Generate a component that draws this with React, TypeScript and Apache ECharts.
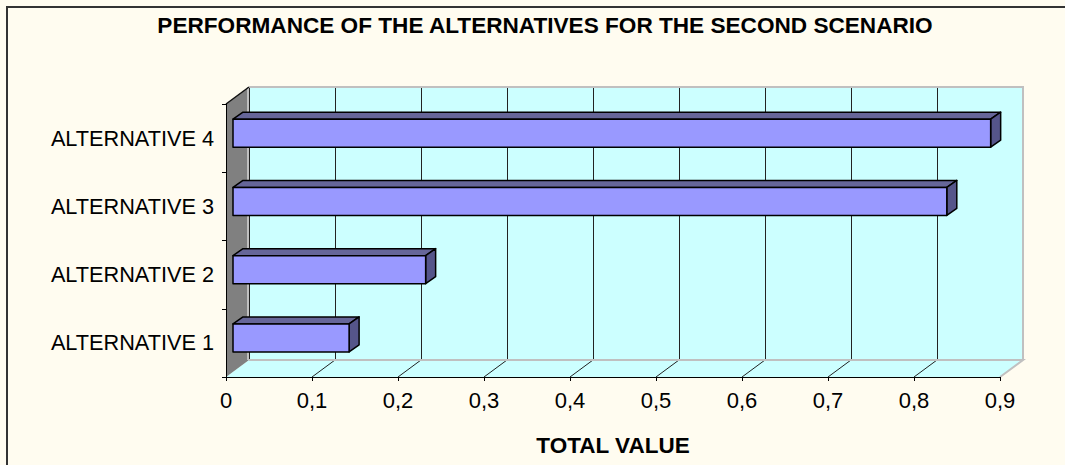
import React, { useEffect, useRef } from "react";
import * as echarts from "echarts";

// Chart content
const TITLE = "PERFORMANCE OF THE ALTERNATIVES FOR THE SECOND SCENARIO";
const AXIS_NAME = "TOTAL VALUE";
const CATEGORIES = ["ALTERNATIVE 1", "ALTERNATIVE 2", "ALTERNATIVE 3", "ALTERNATIVE 4"];
const TOTAL_VALUES = [0.135, 0.224, 0.83, 0.881];
const TICK_VALUES = [0, 0.1, 0.2, 0.3, 0.4, 0.5, 0.6, 0.7, 0.8, 0.9];
const TICK_LABELS = ["0", "0,1", "0,2", "0,3", "0,4", "0,5", "0,6", "0,7", "0,8", "0,9"];

// 3D look: depth of the plot box and of each bar
const DEPTH_X = 23;
const DEPTH_Y = -17;
const BAR_SHIFT_X = 7;
const BAR_SHIFT_Y = -5;
const BAR_DEPTH_X = 10;
const BAR_DEPTH_Y = -7;
const BAR_HEIGHT = 28;

const FONT = "'Liberation Sans', Arial, sans-serif";

export default function App() {
  const ref = useRef<HTMLDivElement>(null);

  useEffect(() => {
    document.body.style.margin = "0";
    if (!ref.current) return;
    const chart = echarts.init(ref.current, undefined, { renderer: "svg" });

    const frameItem = (params: any, api: any) => {
      const cs = params.coordSys;
      const left = cs.x;
      const top = cs.y;
      const right = cs.x + cs.width;
      const bottom = cs.y + cs.height;
      const children: any[] = [];
      // floor
      children.push({
        type: "polygon",
        shape: {
          points: [
            [left, bottom],
            [right, bottom],
            [right + DEPTH_X, bottom + DEPTH_Y],
            [left + DEPTH_X, bottom + DEPTH_Y],
          ],
        },
        style: { fill: "#CCFFFF" },
      });
      // floor grid lines
      TICK_VALUES.slice(1, -1).forEach((t) => {
        const p = api.coord([t, 0]);
        children.push({
          type: "line",
          shape: { x1: p[0], y1: bottom, x2: p[0] + DEPTH_X, y2: bottom + DEPTH_Y },
          style: { stroke: "#222", lineWidth: 1 },
        });
      });
      // floor and back-wall edges
      children.push({
        type: "polyline",
        shape: {
          points: [
            [left + DEPTH_X, bottom + DEPTH_Y],
            [right + DEPTH_X, bottom + DEPTH_Y],
            [right, bottom],
          ],
        },
        style: { stroke: "#C0C0C0", lineWidth: 2, fill: null },
      });
      children.push({
        type: "polyline",
        shape: {
          points: [
            [left + DEPTH_X, top + DEPTH_Y],
            [right + DEPTH_X, top + DEPTH_Y],
            [right + DEPTH_X, bottom + DEPTH_Y],
          ],
        },
        style: { stroke: "#C0C0C0", lineWidth: 2, fill: null },
      });
      // left wall
      children.push({
        type: "polygon",
        shape: {
          points: [
            [left, top],
            [left + DEPTH_X, top + DEPTH_Y],
            [left + DEPTH_X, bottom + DEPTH_Y],
            [left, bottom],
          ],
        },
        style: { fill: "#808080" },
      });
      children.push({
        type: "line",
        shape: { x1: left + DEPTH_X - 1, y1: top + DEPTH_Y, x2: left + DEPTH_X - 1, y2: bottom + DEPTH_Y },
        style: { stroke: "#C0C0C0", lineWidth: 2 },
      });
      children.push({
        type: "line",
        shape: { x1: left, y1: top, x2: left + DEPTH_X, y2: top + DEPTH_Y },
        style: { stroke: "#111", lineWidth: 1.5 },
      });
      return { type: "group", children };
    };

    const barItem = (params: any, api: any) => {
      const v = api.value(0);
      const cat = api.value(1);
      const p0 = api.coord([0, cat]);
      const p1 = api.coord([v, cat]);
      const x0 = p0[0] + BAR_SHIFT_X;
      const x1 = p1[0] + BAR_SHIFT_X;
      const yc = p0[1] + BAR_SHIFT_Y;
      const t = yc - BAR_HEIGHT / 2;
      const b = yc + BAR_HEIGHT / 2;
      const edge = { stroke: "#000", lineWidth: 1.5, lineJoin: "round" };
      return {
        type: "group",
        children: [
          {
            type: "polygon",
            shape: {
              points: [
                [x0, t],
                [x1, t],
                [x1 + BAR_DEPTH_X, t + BAR_DEPTH_Y],
                [x0 + BAR_DEPTH_X, t + BAR_DEPTH_Y],
              ],
            },
            style: { fill: "#666699", ...edge },
          },
          {
            type: "polygon",
            shape: {
              points: [
                [x1, t],
                [x1 + BAR_DEPTH_X, t + BAR_DEPTH_Y],
                [x1 + BAR_DEPTH_X, b + BAR_DEPTH_Y],
                [x1, b],
              ],
            },
            style: { fill: "#55558A", ...edge },
          },
          {
            type: "rect",
            shape: { x: x0, y: t, width: x1 - x0, height: b - t },
            style: { fill: "#9999FF", ...edge },
          },
        ],
      };
    };

    chart.setOption({
      animation: false,
      backgroundColor: "#FFFCF0",
      textStyle: { fontFamily: FONT },
      grid: [
        // front plane (axes)
        { left: 226, top: 104, width: 774, height: 273, show: false },
        // back wall
        {
          left: 226 + DEPTH_X,
          top: 104 + DEPTH_Y,
          width: 774,
          height: 273,
          show: true,
          backgroundColor: "#CCFFFF",
          borderWidth: 0,
        },
      ],
      xAxis: [
        {
          type: "value",
          gridIndex: 0,
          min: 0,
          max: 0.9,
          interval: 0.1,
          z: 5,
          name: AXIS_NAME,
          nameLocation: "middle",
          nameGap: 57,
          nameTextStyle: { color: "#000", fontSize: 22.5, fontWeight: "bold", fontFamily: FONT },
          axisLine: { show: true, lineStyle: { color: "#000", width: 1 } },
          axisTick: { show: true, length: 4, lineStyle: { color: "#000" } },
          splitLine: { show: false },
          axisLabel: {
            color: "#000",
            fontSize: 22,
            margin: 12,
            fontFamily: FONT,
            formatter: (_v: number, i: number) => TICK_LABELS[i],
          },
        },
        {
          type: "value",
          gridIndex: 1,
          min: 0,
          max: 0.9,
          interval: 0.1,
          axisLine: { show: false },
          axisTick: { show: false },
          axisLabel: { show: false },
          splitLine: { show: true, lineStyle: { color: "#222", width: 1 } },
        },
      ],
      yAxis: [
        {
          type: "category",
          gridIndex: 0,
          data: CATEGORIES,
          z: 5,
          axisLine: { show: true, lineStyle: { color: "#000", width: 1 } },
          axisTick: { show: true, length: 4, lineStyle: { color: "#000" } },
          axisLabel: { color: "#000", fontSize: 21.7, margin: 12, fontFamily: FONT },
        },
        {
          type: "category",
          gridIndex: 1,
          data: CATEGORIES,
          show: false,
        },
      ],
      series: [
        {
          type: "custom",
          name: "frame",
          xAxisIndex: 0,
          yAxisIndex: 0,
          z: 1,
          silent: true,
          data: [[0, 0]],
          renderItem: frameItem,
        },
        {
          type: "custom",
          name: AXIS_NAME,
          xAxisIndex: 0,
          yAxisIndex: 0,
          z: 3,
          data: TOTAL_VALUES.map((v, i) => [v, i]),
          renderItem: barItem,
        },
      ],
      graphic: [
        {
          type: "text",
          x: 545,
          y: 25,
          style: {
            text: TITLE,
            align: "center",
            verticalAlign: "middle",
            fontSize: 22.6,
            fontWeight: "bold",
            fontFamily: FONT,
            fill: "#000",
          },
        },
        {
          type: "line",
          shape: { x1: 6, y1: 7, x2: 1065, y2: 7 },
          style: { stroke: "#333", lineWidth: 2 },
        },
        {
          type: "line",
          shape: { x1: 7, y1: 6, x2: 7, y2: 465 },
          style: { stroke: "#333", lineWidth: 2 },
        },
      ],
    });

    return () => chart.dispose();
  }, []);

  return <div ref={ref} style={{ width: 1065, height: 465 }} />;
}
